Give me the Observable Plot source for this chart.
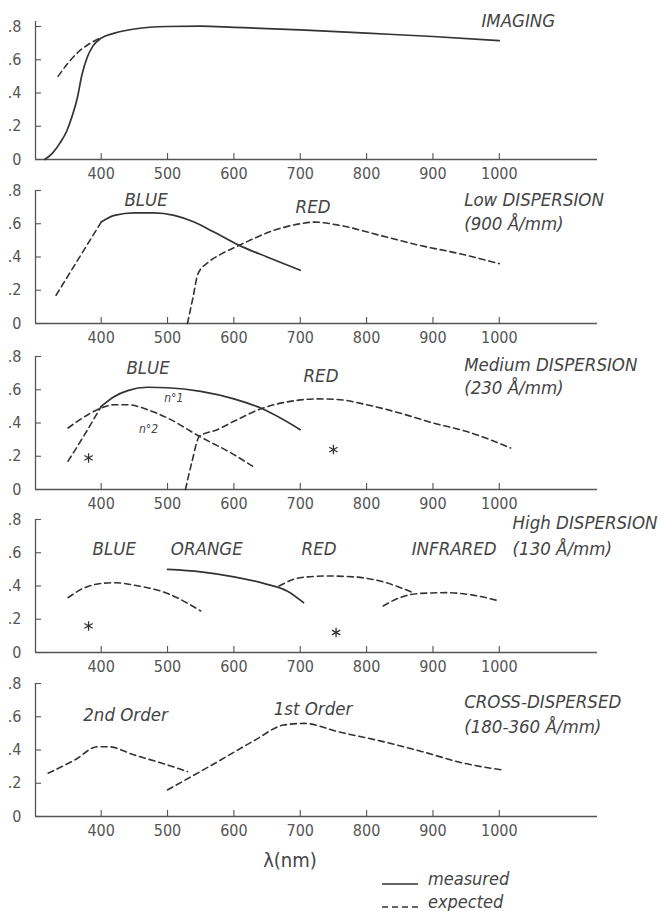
<!DOCTYPE html>
<html><head><meta charset="utf-8">
<script src="https://cdn.jsdelivr.net/npm/d3@7"></script>
<script src="https://cdn.jsdelivr.net/npm/@observablehq/plot@0.6"></script>
<style>
body{margin:0;background:#fff;}
#wrap{position:relative;width:661px;height:911px;font-family:"DejaVu Sans Condensed","Liberation Sans Narrow","DejaVu Sans",sans-serif;color:#444;}
#wrap svg{position:absolute;left:0;overflow:visible;background:transparent;}
.lbl{position:absolute;white-space:nowrap;line-height:1;}
</style></head>
<body><div id="wrap"></div>
<script>
// ---- axes ----
const xTicks = [400, 500, 600, 700, 800, 900, 1000];
const yTicks = [0, 0.2, 0.4, 0.6, 0.8];
const xDomain = [301, 1148];

// ---- IMAGING ----
const imagingMeasured = [[315,0],[327,0.04],[338,0.1],[348,0.17],[357,0.27],[364,0.37],[371,0.51],[379,0.615],[388,0.685],[400,0.73],[420,0.76],[450,0.785],[500,0.8],[550,0.802],[600,0.795],[700,0.78],[800,0.76],[900,0.74],[1000,0.715]];
const imagingExpected = [[335,0.5],[350,0.58],[365,0.645],[380,0.69],[397,0.728]];

// ---- Low DISPERSION ----
const lowBlueExpected = [[332,0.17],[400,0.61]];
const lowBlueMeasured = [[400,0.61],[420,0.65],[450,0.665],[480,0.665],[510,0.65],[540,0.61],[570,0.55],[608,0.47],[650,0.4],[700,0.32]];
const lowRedExpected = [[530,0],[538,0.15],[546,0.3],[562,0.37],[582,0.42],[608,0.47],[660,0.56],[700,0.6],[720,0.61],[760,0.59],[820,0.53],[880,0.47],[940,0.42],[1000,0.36]];

// ---- Medium DISPERSION ----
const medBlueExpected1 = [[350,0.17],[375,0.33],[400,0.5]];
const medBlueMeasured1 = [[400,0.5],[420,0.56],[440,0.595],[470,0.615],[500,0.612],[550,0.59],[600,0.545],[642,0.487],[700,0.36]];
const medBlueExpected2 = [[350,0.37],[380,0.45],[400,0.49],[420,0.51],[440,0.51],[470,0.48],[500,0.43],[548,0.32],[600,0.21],[628,0.14]];
const medRedExpected = [[527,0],[537,0.17],[548,0.32],[575,0.36],[600,0.41],[642,0.487],[693,0.535],[725,0.545],[760,0.54],[800,0.51],[850,0.46],[900,0.4],[950,0.35],[1017,0.25]];
const medStars = [[381,0.19],[750,0.24]];

// ---- High DISPERSION ----
const highBlueExpected = [[350,0.33],[375,0.39],[400,0.415],[420,0.42],[450,0.405],[500,0.355],[550,0.25]];
const highOrangeMeasured = [[500,0.5],[550,0.485],[600,0.455],[650,0.41],[680,0.37],[705,0.3]];
const highRedExpected = [[668,0.4],[700,0.45],[740,0.46],[780,0.455],[820,0.43],[870,0.36]];
const highInfraredExpected = [[825,0.28],[850,0.33],[880,0.355],[920,0.36],[960,0.345],[1000,0.31]];
const highStars = [[381,0.16],[754,0.12]];

// ---- CROSS-DISPERSED ----
const cross2ndExpected = [[320,0.26],[360,0.34],[395,0.42],[410,0.42],[450,0.37],[500,0.31],[530,0.27]];
const cross1stExpected = [[500,0.16],[567,0.31],[630,0.455],[675,0.55],[706,0.56],[757,0.51],[820,0.455],[884,0.39],[947,0.32],[1005,0.28]];

// ---- annotations: [x (nm), y, text] ----
const imagingLabels = [[973,0.83,"IMAGING"]];
const lowLabels = [[435,0.74,"BLUE"],[693,0.70,"RED"],[947,0.74,"Low DISPERSION"],[947,0.60,"(900 Å/mm)"]];
const medLabels = [[438,0.73,"BLUE"],[705,0.68,"RED"],[947,0.75,"Medium DISPERSION"],[947,0.61,"(230 Å/mm)"]];
const medSmall = [[495,0.55,"n°1"],[457,0.36,"n°2"]];
const highLabels = [[387,0.62,"BLUE"],[505,0.62,"ORANGE"],[702,0.62,"RED"],[868,0.62,"INFRARED"],[1020,0.62,"(130 Å/mm)"],[1020,0.78,"High DISPERSION"]];
const crossLabels = [[373,0.61,"2nd Order"],[660,0.645,"1st Order"],[947,0.69,"CROSS-DISPERSED"],[947,0.54,"(180-360 Å/mm)"]];

const INK = "#333";
const GREY = "#555";
const FONT = '"DejaVu Sans Condensed","Liberation Sans Narrow","DejaVu Sans",sans-serif';
const tops = [0, 164, 330, 493, 657];

const panels = [
  {lines: [[imagingMeasured, true], [imagingExpected, false]], labels: imagingLabels, small: [], stars: [], top: 0.83},
  {lines: [[lowBlueExpected, false], [lowBlueMeasured, true], [lowRedExpected, false]], labels: lowLabels, small: [], stars: [], top: 0.8},
  {lines: [[medBlueExpected1, false], [medBlueMeasured1, true], [medBlueExpected2, false], [medRedExpected, false]], labels: medLabels, small: medSmall, stars: medStars, top: 0.8},
  {lines: [[highBlueExpected, false], [highOrangeMeasured, true], [highRedExpected, false], [highInfraredExpected, false]], labels: highLabels, small: [], stars: highStars, top: 0.8},
  {lines: [[cross2ndExpected, false], [cross1stExpected, false]], labels: crossLabels, small: [], stars: [], top: 0.8}
];

const yFmt = d => d === 0 ? "0" : d3.format(".1f")(d).replace(/^0/, "");
const wrap = document.getElementById("wrap");

panels.forEach((p, i) => {
  const marks = [
    Plot.ruleY([0], {stroke: GREY, strokeWidth: 1.3}),
    Plot.ruleX([xDomain[0]], {y1: 0, y2: p.top, stroke: GREY, strokeWidth: 1.3}),
    Plot.ruleX(xTicks, {x: d => d, y1: 0, y2: 0.036, stroke: GREY, strokeWidth: 1.1}),
    Plot.ruleY(yTicks, {y: d => d, x1: xDomain[0], x2: xDomain[0] + 9, stroke: GREY, strokeWidth: 1.1}),
    Plot.text(xTicks, {x: d => d, y: 0, dy: 14, text: d => String(d), fill: GREY, fontSize: 16, fontFamily: FONT}),
    Plot.text(yTicks, {x: xDomain[0], y: d => d, dx: -14, text: yFmt, textAnchor: "end", fill: GREY, fontSize: 16, fontFamily: FONT})
  ];
  p.lines.forEach(([data, measured]) => {
    marks.push(Plot.line(data, {
      x: d => d[0], y: d => d[1], curve: "monotone-x",
      stroke: INK, strokeWidth: measured ? 1.7 : 1.6,
      strokeDasharray: measured ? null : "6,4"
    }));
  });
  if (p.stars.length) marks.push(Plot.dot(p.stars, {x: d => d[0], y: d => d[1], symbol: "asterisk", r: 4.5, stroke: INK, strokeWidth: 1.3}));
  marks.push(Plot.text(p.labels, {x: d => d[0], y: d => d[1], text: d => d[2], textAnchor: "start", fontStyle: "italic", fontSize: 18.5, fill: "#444", fontFamily: FONT}));
  if (p.small.length) marks.push(Plot.text(p.small, {x: d => d[0], y: d => d[1], text: d => d[2], textAnchor: "start", fontStyle: "italic", fontSize: 12, fill: "#444", fontFamily: FONT}));

  const svg = Plot.plot({
    width: 661, height: 164,
    marginLeft: 35, marginRight: 64, marginTop: 26, marginBottom: 5,
    x: {domain: xDomain, axis: null},
    y: {domain: [0, 0.8], axis: null},
    style: {fontFamily: FONT, fontSize: "14px", color: GREY, background: "transparent", overflow: "visible"},
    marks
  });
  svg.style.top = tops[i] + "px";
  wrap.appendChild(svg);
});

// axis title and legend
const xl = document.createElement("div");
xl.className = "lbl";
xl.style.cssText = "left:290px;top:850px;transform:translateX(-50%);font-size:20px;";
xl.textContent = "λ(nm)";
wrap.appendChild(xl);

function legendRow(top, dash, text) {
  const row = document.createElement("div");
  row.className = "lbl";
  row.style.cssText = `left:380px;top:${top}px;height:20px;font-size:18px;font-style:italic;`;
  row.innerHTML = `<svg style="position:absolute;left:0;top:0;overflow:visible" width="40" height="20"><line x1="2" x2="38" y1="15" y2="15" stroke="#333" stroke-width="1.6"${dash ? ' stroke-dasharray="6,4"' : ''}/></svg><span style="position:absolute;left:48px;top:1px">${text}</span>`;
  wrap.appendChild(row);
}
legendRow(869, false, "measured");
legendRow(892, true, "expected");
</script>
</body></html>
